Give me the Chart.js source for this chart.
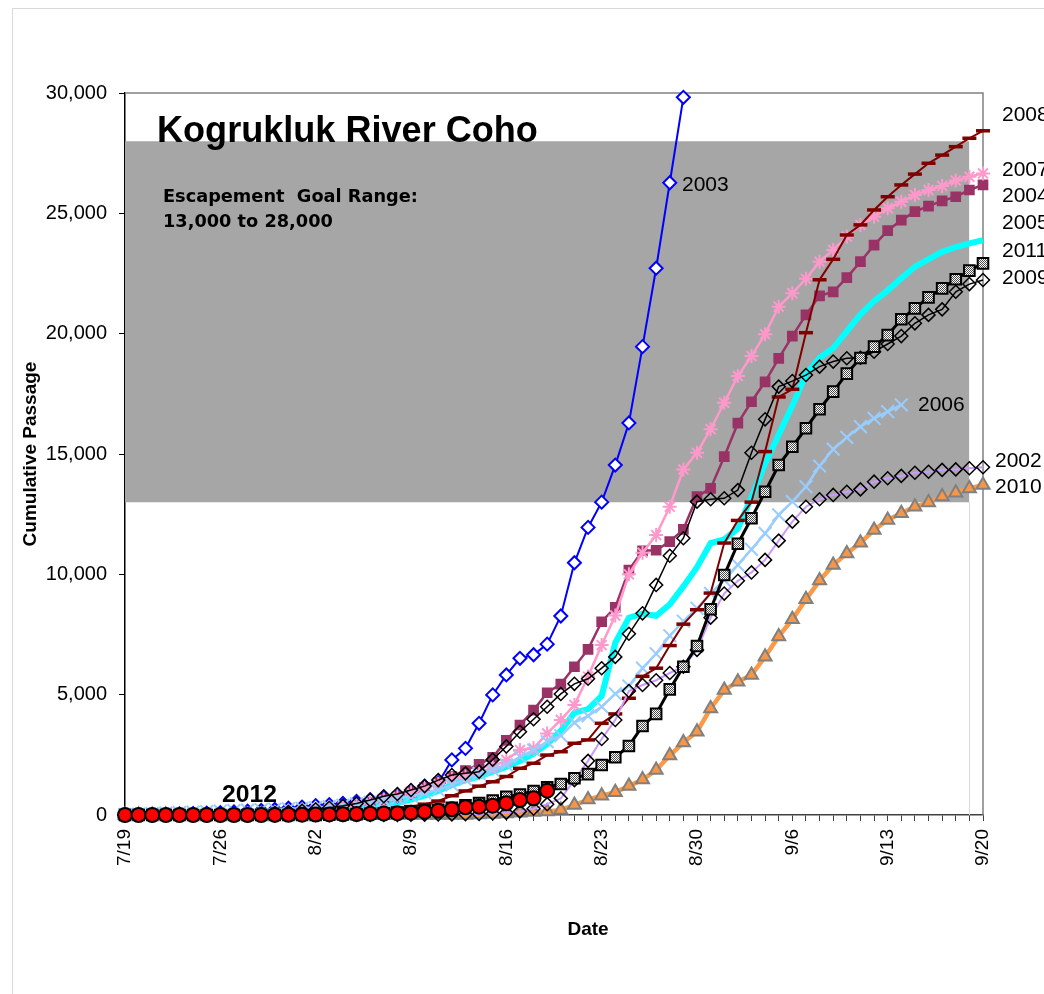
<!DOCTYPE html>
<html>
<head>
<meta charset="utf-8">
<script src="https://cdn.jsdelivr.net/npm/chart.js@4.4.0/dist/chart.umd.min.js"></script>
<style>
html, body { margin: 0; padding: 0; background: #fff; overflow: hidden; }
#frame { position: absolute; left: 12px; top: 8px; width: 1120px; height: 1000px;
         border-left: 1px solid #d9d9d9; border-top: 1px solid #d9d9d9; }
#chart { display: block; }
</style>
</head>
<body>
<div id="frame"><canvas id="chart" width="1100" height="990" style="width:1100px;height:990px"></canvas></div>
<script>
// days from 7/19 to 9/20
const days = ['7/19','7/20','7/21','7/22','7/23','7/24','7/25','7/26','7/27','7/28','7/29','7/30','7/31',
  '8/1','8/2','8/3','8/4','8/5','8/6','8/7','8/8','8/9','8/10','8/11','8/12','8/13','8/14','8/15','8/16',
  '8/17','8/18','8/19','8/20','8/21','8/22','8/23','8/24','8/25','8/26','8/27','8/28','8/29','8/30','8/31',
  '9/1','9/2','9/3','9/4','9/5','9/6','9/7','9/8','9/9','9/10','9/11','9/12','9/13','9/14','9/15','9/16',
  '9/17','9/18','9/19','9/20'];
const tickLabels = ['7/19','7/26','8/2','8/9','8/16','8/23','8/30','9/6','9/13','9/20'];
const yTicks = [0, 5000, 10000, 15000, 20000, 25000, 30000];

// escapement goal range
const goalLow = 13000;
const goalHigh = 28000;

// cumulative passage by year
const y2002 = [0,0,0,0,0,0,0,0,0,0, 0,0,0,0,0,0,0,0,0,0,
  5,10,15,20,25,30,40,60,90,150, 260,450,690,1450,2250,3160,3950,5150,5400,5600,
  5900,6160,6860,8200,9200,9730,10080,10600,11400,12190, 12810,13120,13300,13430,13530,13850,13990,14090,14220,14260,
  14340,14360,14410,14450];
const y2003 = [0,0,10,20,40,60,80,100,130,160, 190,230,280,330,390,430,480,560,640,720,
  800,950,1200,1330,2290,2770,3810,4990,5820,6510, 6660,7100,8270,10480,11950,13000,14540,16290,19460,22720,
  26270,29820, null,null,null,null,null,null,null,null, null,null,null,null,null,null,null,null,null,null,
  null,null,null,null];
const y2004 = [0,0,5,10,15,20,25,30,35,40, 60,80,110,150,200,260,330,420,520,640,
  780,950,1150,1350,1600,1850,2100,2400,3100,3740, 4360,5080,5440,6160,6880,8030,8630,10180,10980,11000,
  11360,11870,13230,13570,14890,16280,17170,18000,18970,19900, 20780,21570,21740,22330,22990,23680,24280,24720,25070,25300,
  25520,25690,25970,26180];
const y2005 = [0,0,0,5,10,15,20,25,35,45, 55,70,85,100,130,170,220,280,350,430,
  520,640,800,1000,1250,1450,1590,1800,2000,2250, 2550,2950,3500,4250,4400,4950,7150,8200,8370,8280,
  8750,9500,10300,11300,11450,11900,13200,14600,15800,17000, 18300,19000,19400,20100,20800,21350,21800,22300,22780,23100,
  23400,23600,23750,23890];
const y2006 = [20,40,60,80,100,120,140,160,180,200, 220,240,260,280,310,350,400,460,530,610,
  690,790,930,1040,1250,1480,1730,1870,2080,2420, 2700,3050,3300,3840,4120,4500,5040,5360,6100,6700,
  7450,8050,8590,9210,9760,10390,11040,11700,12470,13020, 13640,14500,15200,15690,16140,16480,16760,17040,null,null,
  null,null,null,null];
const y2007 = [0,0,0,5,10,15,20,30,40,50, 60,80,110,150,200,260,330,420,520,640,
  780,950,1100,1300,1500,1600,1730,2000,2285,2700, 2770,3390,3950,4570,5750,7060,8290,10000,10900,11630,
  12810,14360,15050,16030,17130,18240,19070,19980,21120,21680, 22280,22990,23480,24030,24520,24860,25210,25480,25760,25970,
  26140,26360,26520,26660];
const y2008 = [0,0,0,0,0,0,0,0,5,10, 10,15,20,30,40,60,80,110,150,200,
  270,350,450,580,800,1000,1200,1380,1600,1940, 2150,2490,2630,2980,3120,3810,4200,4850,5760,6100,
  7040,7930,8530,9220,11300,12240,13000,15100,17370,17690, 20040,22240,23090,24100,24520,25140,25690,26180,26630,27080,
  27420,27770,28120,28430];
const y2009 = [0,0,0,0,0,0,0,10,20,40, 60,90,130,180,240,300,380,480,620,780,
  870,1040,1200,1450,1660,1730,1800,2300,2850,3460, 3980,4500,5030,5450,5660,6100,6570,7530,8380,9560,
  10770,11500,13020,13120,13160,13500,15050,16440,17800,18030, 18280,18630,18840,18980,19000,19250,19570,19900,20430,20780,
  21010,21740,22060,22230];
const y2010 = [0,0,0,0,0,0,0,0,0,0, 0,0,0,0,0,0,0,0,0,0,
  0,0,0,0,0,0,20,40,60,90, 120,150,210,415,640,800,950,1200,1470,1870,
  2470,3010,3460,4430,5190,5540,5820,6580,7420,8130, 8960,9740,10390,10870,11310,11840,12260,12540,12810,12980,
  13230,13390,13570,13710];
const y2011 = [0,0,0,0,0,0,0,0,0,0, 0,0,0,0,0,10,20,30,50,70,
  100,130,170,220,300,400,500,600,760,850, 1000,1150,1290,1525,1700,2080,2400,2870,3700,4200,
  5220,6160,7020,8550,9970,11270,12330,13430,14540,15300, 16070,16860,17590,18340,18990,19460,19940,20600,21050,21510,
  21880,22260,22620,22920];
const y2012 = [0,0,0,0,0,0,0,0,0,0, 0,5,8,12,18,25,32,40,50,60,
  70,96,137,179,237,320,345,387,485,623, 693,1010, null,null,null,null,null,null,null,null,
  null,null,null,null,null,null,null,null,null,null, null,null,null,null,null,null,null,null,null,null,
  null,null,null,null];

// the shaded goal band stops one day short of the last date
const bandTop = days.map((d, i) => i < days.length - 1 ? goalHigh : null);
const bandBottom = days.map((d, i) => i < days.length - 1 ? goalLow : null);

const ctx = document.getElementById('chart').getContext('2d');

// grey checked fill for the square markers
function checker() {
  const c = document.createElement('canvas');
  c.width = 2; c.height = 2;
  const g = c.getContext('2d');
  g.fillStyle = '#ffffff';
  g.fillRect(0, 0, 2, 2);
  g.fillStyle = '#4d4d4d';
  g.fillRect(0, 0, 1, 1);
  g.fillRect(1, 1, 1, 1);
  return ctx.createPattern(c, 'repeat');
}

function series(label, data, order, o) {
  return Object.assign({
    label: label, data: data, order: order, clip: false,
    tension: 0, spanGaps: false, fill: false,
    pointBorderWidth: 1.5, pointHoverRadius: 0
  }, o);
}

const datasets = [
  series('2012', y2012, 1, { borderColor: '#000', borderWidth: 2, pointStyle: 'circle', pointRadius: 7,
    pointBackgroundColor: '#ff0000', pointBorderColor: '#000', pointBorderWidth: 2 }),
  series('2011', y2011, 2, { borderColor: '#000', borderWidth: 3, pointStyle: 'rect', pointRadius: 7.5,
    pointBackgroundColor: checker(), pointBorderColor: '#000', pointBorderWidth: 2 }),
  series('2009', y2009, 3, { borderColor: '#000', borderWidth: 1.5, pointStyle: 'rectRot', pointRadius: 6.5,
    pointBackgroundColor: 'rgba(0,0,0,0)', pointBorderColor: '#000', pointBorderWidth: 1.5 }),
  series('2002', y2002, 4, { borderColor: '#cc99ff', borderWidth: 2, pointStyle: 'rectRot', pointRadius: 6.5,
    pointBackgroundColor: 'rgba(0,0,0,0)', pointBorderColor: '#000', pointBorderWidth: 1.5 }),
  series('2008', y2008, 5, { borderColor: '#800000', borderWidth: 2, pointStyle: 'line', pointRadius: 7,
    pointBorderColor: '#800000', pointBorderWidth: 3.5 }),
  series('2006', y2006, 6, { borderColor: '#99ccff', borderWidth: 2.5, pointStyle: 'crossRot', pointRadius: 9,
    pointBorderColor: '#99ccff', pointBorderWidth: 2 }),
  series('2007', y2007, 7, { borderColor: '#ff99cc', borderWidth: 2.5, pointStyle: 'star', pointRadius: 7,
    pointBorderColor: '#ff99cc', pointBorderWidth: 2 }),
  series('2004', y2004, 8, { borderColor: '#993366', borderWidth: 2.5, pointStyle: 'rect', pointRadius: 6.5,
    pointBackgroundColor: '#993366', pointBorderColor: '#993366' }),
  series('2003', y2003, 9, { borderColor: '#0000ff', borderWidth: 2, pointStyle: 'rectRot', pointRadius: 6.5,
    pointBackgroundColor: '#ffffff', pointBorderColor: '#0000ff', pointBorderWidth: 2 }),
  series('2005', y2005, 10, { borderColor: '#00ffff', borderWidth: 6, pointRadius: 0 }),
  series('2010', y2010, 11, { borderColor: '#fa9a46', borderWidth: 4.5, pointStyle: 'triangle', pointRadius: 7.5,
    pointBackgroundColor: '#f79646', pointBorderColor: '#808080', pointBorderWidth: 2 }),
  series('goal top', bandTop, 20, { borderWidth: 0, pointRadius: 0, backgroundColor: '#a6a6a6', fill: '+1' }),
  series('goal bottom', bandBottom, 21, { borderWidth: 0, pointRadius: 0 })
];

// free text placed on the chart (canvas pixels)
const yearNotes = [
  ['2008', 989, 106], ['2007', 989, 161], ['2004', 989, 187.5], ['2005', 989, 214.5],
  ['2011', 989, 242], ['2009', 989, 269], ['2003', 669, 176], ['2006', 905, 396],
  ['2002', 982, 452], ['2010', 982, 478.5]
];

function fitFont(c, text, weight, family, width) {
  c.font = weight + ' 100px "' + family + '"';
  return 100 * width / c.measureText(text).width;
}

const frame = {
  id: 'frame',
  beforeDatasetsDraw(chart) {
    const a = chart.chartArea, c = chart.ctx;
    const x = chart.scales.x, y = chart.scales.y;
    c.save();
    c.strokeStyle = '#dcdcdc';
    c.lineWidth = 1;
    const xe = Math.round(x.getPixelForValue(days.length - 2)) + 0.5;
    c.beginPath();
    c.moveTo(xe, y.getPixelForValue(goalLow));
    c.lineTo(xe, a.bottom);
    c.stroke();
    c.strokeStyle = '#808080';
    c.lineWidth = 1.5;
    c.beginPath();
    c.moveTo(a.left, a.top);
    c.lineTo(a.right, a.top);
    c.lineTo(a.right, a.bottom);
    c.stroke();
    c.restore();
  }
};

const notes = {
  id: 'notes',
  afterDraw(chart) {
    const c = chart.ctx;
    c.save();
    c.fillStyle = '#000';
    c.textAlign = 'left';
    c.textBaseline = 'alphabetic';
    let s = fitFont(c, 'Kogrukluk River Coho', 'bold', 'Liberation Sans', 381);
    c.font = 'bold ' + s + 'px "Liberation Sans"';
    c.fillText('Kogrukluk River Coho', 144, 132.5);
    s = fitFont(c, 'Escapement  Goal Range:', 'bold', 'DejaVu Sans', 255);
    c.font = 'bold ' + s + 'px "DejaVu Sans"';
    c.fillText('Escapement  Goal Range:', 150, 192.5);
    c.fillText('13,000 to 28,000', 150, 217.5);
    c.textBaseline = 'middle';
    c.font = '21px "Liberation Sans"';
    yearNotes.forEach(n => c.fillText(n[0], n[1], n[2]));
    s = fitFont(c, '2012', 'bold', 'Liberation Sans', 55);
    c.font = 'bold ' + s + 'px "Liberation Sans"';
    c.fillText('2012', 209, 786);
    c.textAlign = 'center';
    c.font = 'bold 19px "Liberation Sans"';
    c.fillText('Date', 575, 921);
    c.restore();
  }
};

new Chart(ctx, {
  type: 'line',
  data: { labels: days, datasets: datasets },
  options: {
    responsive: false,
    animation: false,
    events: [],
    layout: { padding: { left: 0, top: 84, right: 130, bottom: 0 } },
    plugins: { legend: { display: false }, tooltip: { enabled: false } },
    scales: {
      x: {
        type: 'category',
        offset: false,
        border: { display: true, color: '#404040', width: 1.5 },
        grid: { display: true, drawOnChartArea: false, drawTicks: true, tickLength: 6, color: '#404040' },
        ticks: {
          autoSkip: false, maxRotation: 90, minRotation: 90, padding: 8, color: '#000',
          font: { family: 'Liberation Sans', size: 19 },
          callback: function (v) {
            const lab = this.getLabelForValue(v);
            return tickLabels.includes(lab) ? lab : '';
          }
        },
        afterFit(scale) { scale.height = 184; }
      },
      y: {
        min: 0, max: 30000,
        border: { display: true, color: '#000', width: 1.5 },
        grid: { display: true, drawOnChartArea: false, drawTicks: true, tickLength: 6, color: '#000' },
        afterBuildTicks(scale) { scale.ticks = yTicks.map(v => ({ value: v })); },
        ticks: {
          padding: 12, color: '#000',
          font: { family: 'Liberation Sans', size: 20 },
          callback: v => v.toLocaleString('en-US')
        },
        title: {
          display: true, text: 'Cumulative Passage', color: '#000',
          font: { family: 'Liberation Sans', size: 19, weight: 'bold' },
          padding: { top: 6, bottom: 0 }
        },
        afterFit(scale) { scale.width = 112; }
      }
    }
  },
  plugins: [frame, notes]
});
</script>
</body>
</html>
